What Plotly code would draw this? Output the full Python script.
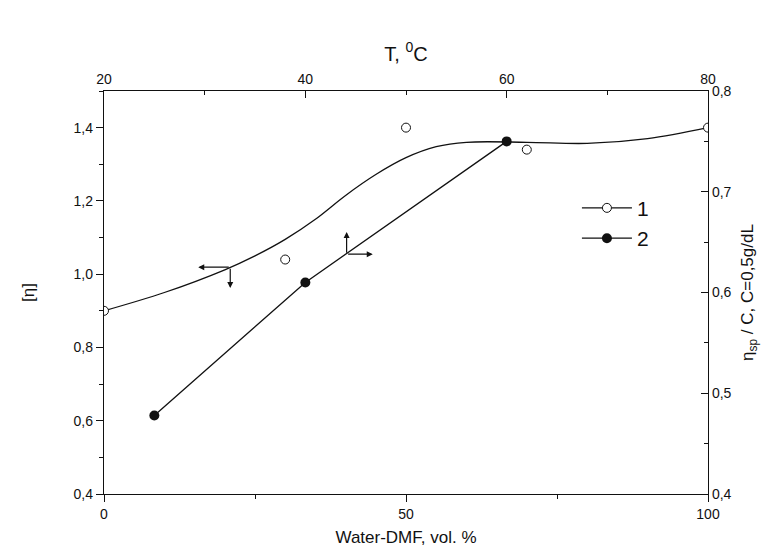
import plotly.graph_objects as go

# Series 1: [eta] vs Water-DMF vol.% (bottom / left axes)
dmf_pct = [0, 30, 50, 70, 100]
eta_intr = [0.90, 1.04, 1.40, 1.34, 1.40]

# Smooth fit curve for series 1
fit_x = [0, 10, 20, 25, 30, 35, 40, 45, 50, 55, 60, 70, 80, 90, 100]
fit_y = [0.900, 0.950, 1.012, 1.050, 1.095, 1.150, 1.215, 1.272, 1.318, 1.348, 1.360, 1.360, 1.357, 1.370, 1.400]

# Series 2: eta_sp/C vs temperature (top / right axes)
temp_c = [25, 40, 60]
eta_sp_c = [0.478, 0.61, 0.75]

left_ticks = [0.4, 0.6, 0.8, 1.0, 1.2, 1.4]
right_ticks = [0.4, 0.5, 0.6, 0.7, 0.8]
bottom_ticks = [0, 50, 100]
top_ticks = [20, 40, 60, 80]

ink = "#111111"
font_family = "Liberation Sans, Arial, sans-serif"

fig = go.Figure()

fig.add_trace(go.Scatter(x=fit_x, y=fit_y, mode="lines", line=dict(color=ink, width=1.3, shape="spline", smoothing=1.0),
                         showlegend=False, hoverinfo="skip"))
fig.add_trace(go.Scatter(x=dmf_pct, y=eta_intr, mode="markers",
                         marker=dict(symbol="circle", size=9, color="white", line=dict(color=ink, width=1)),
                         showlegend=False))
# legend proxy for series 1
fig.add_trace(go.Scatter(x=[None], y=[None], mode="lines+markers", name="1",
                         line=dict(color=ink, width=1.2),
                         marker=dict(symbol="circle", size=9, color="white", line=dict(color=ink, width=1))))
fig.add_trace(go.Scatter(x=temp_c, y=eta_sp_c, mode="lines+markers", name="2",
                         xaxis="x2", yaxis="y2",
                         line=dict(color=ink, width=1.3),
                         marker=dict(symbol="circle", size=10, color=ink)))

axis_common = dict(showline=True, linecolor=ink, linewidth=1.3, showgrid=False, zeroline=False,
                   tickcolor=ink, tickfont=dict(family=font_family, size=14, color=ink), mirror=False)

fig.update_layout(
    width=770, height=548,
    margin=dict(l=96, r=70, t=83, b=58),
    paper_bgcolor="white", plot_bgcolor="white",
    separators=", ",
    font=dict(family=font_family, color=ink),
    xaxis=dict(range=[0, 100], tickvals=bottom_ticks, ticks="outside", ticklen=7,
               minor=dict(ticks="outside", dtick=25, tick0=0, ticklen=4, tickcolor=ink),
               title=dict(text="Water-DMF, vol. %", font=dict(size=17), standoff=10), **axis_common),
    yaxis=dict(range=[0.4, 1.5], tickvals=left_ticks, tickformat=".1f", ticks="outside", ticklen=7,
               minor=dict(ticks="outside", dtick=0.1, tick0=0.4, ticklen=4, tickcolor=ink),
               title=dict(text="[η]", font=dict(size=17), standoff=34), **axis_common),
    xaxis2=dict(range=[20, 80], tickvals=top_ticks, overlaying="x", side="top", anchor="y",
                ticks="inside", ticklen=7,
                minor=dict(ticks="inside", dtick=10, tick0=20, ticklen=4, tickcolor=ink),
                title=dict(text="T, <sup>0</sup>C", font=dict(size=20), standoff=4), **axis_common),
    yaxis2=dict(range=[0.4, 0.8], tickvals=right_ticks, tickformat=".1f", overlaying="y", side="right", anchor="x",
                ticks="inside", ticklen=7,
                minor=dict(ticks="inside", dtick=0.05, tick0=0.4, ticklen=4, tickcolor=ink),
                title=dict(text="η<sub>sp</sub> / C, C=0,5g/dL", font=dict(size=17), standoff=10), **axis_common),
    legend=dict(x=0.783, y=0.76, xanchor="left", yanchor="top", bgcolor="rgba(0,0,0,0)",
                itemwidth=50,
                font=dict(size=21, family=font_family, color=ink), tracegroupgap=4),
)

# Direction arrows (series 1 -> left/bottom axes)
arrow_style = dict(showarrow=True, arrowhead=2, arrowsize=1, arrowwidth=1.2, arrowcolor=ink, text="")
fig.add_annotation(x=15.6, y=1.019, ax=20.9, ay=1.019, xref="x", yref="y", axref="x", ayref="y", **arrow_style)
fig.add_annotation(x=20.9, y=0.962, ax=20.9, ay=1.019, xref="x", yref="y", axref="x", ayref="y", **arrow_style)
# series 2 -> top/right axes
fig.add_annotation(x=44.1, y=0.660, ax=44.1, ay=0.638, xref="x2", yref="y2", axref="x2", ayref="y2", **arrow_style)
fig.add_annotation(x=46.7, y=0.638, ax=44.1, ay=0.638, xref="x2", yref="y2", axref="x2", ayref="y2", **arrow_style)

fig.write_html("out.html")
